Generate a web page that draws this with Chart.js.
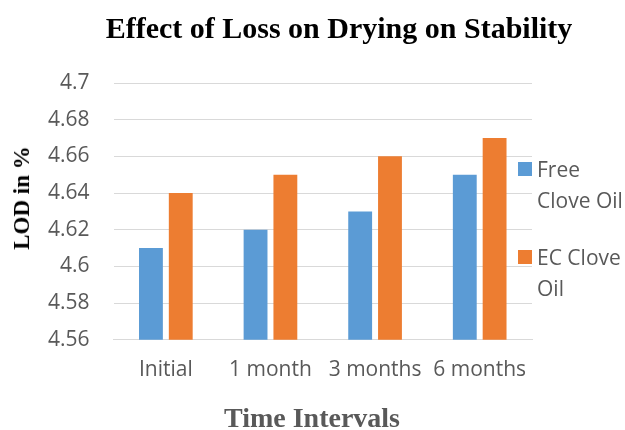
<!DOCTYPE html>
<html>
<head>
<meta charset="utf-8">
<script src="https://cdn.jsdelivr.net/npm/chart.js@4"></script>
<style>
    body { margin: 0; background: #fff; }
    #wrap { position: relative; width: 625px; height: 430px; overflow: hidden; }
    #chart { position: absolute; left: 0; top: 0; }
    .titulo { position: absolute; font-family: "Liberation Serif", serif; font-weight: bold; white-space: nowrap; }
    #tituloPrincipal { left: 339px; top: 10px; font-size: 30px; line-height: 36px; color: #000; transform: translateX(-50%); }
    #tituloX { left: 312px; top: 401px; font-size: 28px; line-height: 34px; color: #595959; transform: translateX(-50%); }
    #tituloY { left: 22px; top: 198px; font-size: 23px; line-height: 28px; color: #000; transform: translate(-50%, -50%) rotate(-90deg); }
    #legend {
        position: absolute; left: 518px; top: 154px; width: 107px;
        font-family: "Open Sans", sans-serif; font-size: 21px; color: #595959; line-height: 31px;
    }
    .item { position: relative; padding-left: 19px; margin-bottom: 26px; }
    .box { position: absolute; left: 0; top: 8px; width: 14px; height: 14px; }
</style>
</head>
<body>
<div id="wrap">
    <canvas id="chart" width="625" height="430"></canvas>
    <div class="titulo" id="tituloPrincipal"></div>
    <div class="titulo" id="tituloY"></div>
    <div class="titulo" id="tituloX"></div>
    <div id="legend"></div>
</div>
<script>
// ========================================
// DATOS
// ========================================
const categorias = ['Initial', '1 month', '3 months', '6 months'];
const freeCloveOil = [4.61, 4.62, 4.63, 4.65];
const ecCloveOil = [4.64, 4.65, 4.66, 4.67];
const seriesNombres = ['Free Clove Oil', 'EC Clove Oil'];
const colores = ['#5B9BD5', '#ED7D31'];
const yMin = 4.56;
const yMax = 4.7;
const yPaso = 0.02;

// ========================================
// TÍTULOS Y LEYENDA HTML
// ========================================
document.getElementById('tituloPrincipal').textContent = 'Effect of Loss on Drying on Stability';
document.getElementById('tituloX').textContent = 'Time Intervals';
document.getElementById('tituloY').textContent = 'LOD in %';

const legendEl = document.getElementById('legend');
seriesNombres.forEach((nombre, i) => {
    const item = document.createElement('div');
    item.className = 'item';
    item.innerHTML = `<span class="box" style="background:${colores[i]}"></span>${nombre}`;
    legendEl.appendChild(item);
});

// ========================================
// GRÁFICO
// ========================================
const ctx = document.getElementById('chart').getContext('2d');
new Chart(ctx, {
    type: 'bar',
    data: {
        labels: categorias,
        datasets: [{
            label: seriesNombres[0],
            data: freeCloveOil,
            backgroundColor: colores[0]
        }, {
            label: seriesNombres[1],
            data: ecCloveOil,
            backgroundColor: colores[1]
        }]
    },
    options: {
        responsive: false,
        animation: false,
        categoryPercentage: 0.57,
        barPercentage: 0.8,
        layout: { padding: { top: 83, right: 93, left: 24, bottom: 37 } },
        plugins: {
            legend: { display: false },
            tooltip: { enabled: false },
            title: { display: false }
        },
        scales: {
            x: {
                grid: { display: false },
                border: { color: '#d9d9d9' },
                ticks: {
                    color: '#595959',
                    font: { family: 'Open Sans', size: 21 },
                    padding: 10,
                    maxRotation: 0
                }
            },
            y: {
                min: yMin,
                max: yMax,
                grid: { color: '#d9d9d9', drawTicks: false },
                border: { display: false },
                ticks: {
                    stepSize: yPaso,
                    color: '#595959',
                    font: { family: 'Open Sans', size: 21 },
                    padding: 24,
                    callback: function(value) {
                        return parseFloat(value.toFixed(2)).toString();
                    }
                }
            }
        }
    }
});
</script>
</body>
</html>
